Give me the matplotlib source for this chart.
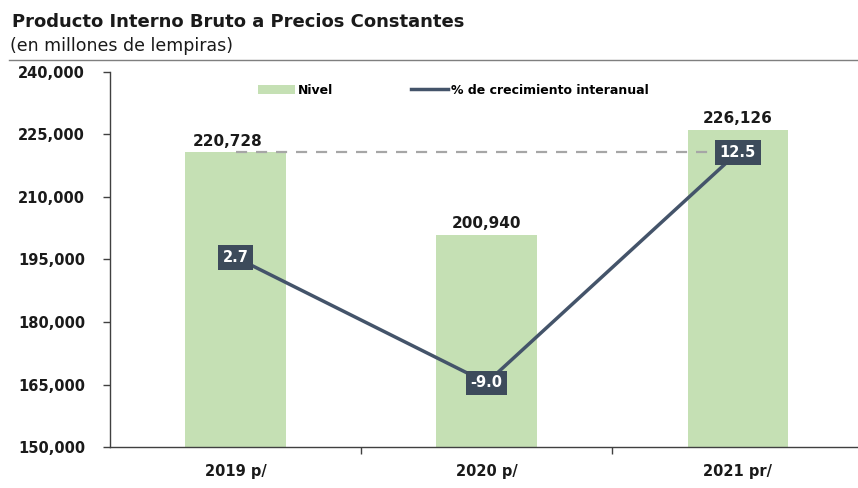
import matplotlib.pyplot as plt
from matplotlib.lines import Line2D
from matplotlib.patches import Patch
from matplotlib.ticker import FuncFormatter

years = ["2019 p/", "2020 p/", "2021 pr/"]
nivel = [220728, 200940, 226126]
crecimiento = [2.7, -9.0, 12.5]

BAR = "#c5e0b4"
LINE = "#44546a"
BOX = "#3d4b5b"
TXT = "#1a1a1a"

plt.rcParams["font.family"] = ["DejaVu Sans"]

fig = plt.figure(figsize=(8.58, 4.88), dpi=100)
ax = fig.add_axes([0.1282, 0.084, 0.878, 0.7685])
x = list(range(len(years)))

ax.bar(x, nivel, width=0.4, color=BAR, zorder=2)
ax.set_ylim(150000, 240000)
ax.set_xlim(-0.5, 2.5)
ax.set_yticks(range(150000, 240001, 15000))
ax.yaxis.set_major_formatter(FuncFormatter(lambda v, p: f"{int(v):,}"))
ax.set_xticks(x)
ax.set_xticklabels(years)
ax.set_xticks([0.5, 1.5, 2.5], minor=True)
ax.tick_params(axis="x", which="major", length=0, pad=12)
ax.tick_params(axis="x", which="minor", length=5, width=1, color="#404040")
ax.tick_params(axis="y", length=5, width=1, color="#404040", pad=13)
for lab in ax.get_xticklabels() + ax.get_yticklabels():
    lab.set_fontweight("bold")
    lab.set_fontsize(10.5)
    lab.set_color(TXT)
for s in ["top", "right"]:
    ax.spines[s].set_visible(False)
for s in ["left", "bottom"]:
    ax.spines[s].set_color("#404040")
    ax.spines[s].set_linewidth(1)

# dashed reference at 2019 level
ax.plot([0, 2], [nivel[0], nivel[0]], ls=(0, (5, 4)), color="#a6a6a6", lw=1.6, zorder=3)

for xi, v in zip(x, nivel):
    ax.text(xi - 0.03 if xi == 0 else xi, v + 900, f"{v:,}", ha="center", va="bottom",
            fontsize=11, fontweight="bold", color=TXT)

ax2 = ax.twinx()
ax2.set_ylim(-15, 20)
ax2.axis("off")
ax2.plot(x, crecimiento, color=LINE, lw=2.5, zorder=4)
for xi, v in zip(x, crecimiento):
    ax2.text(xi, v, f"{v:.1f}", ha="center", va="center", fontsize=10.5,
             fontweight="bold", color="white", zorder=5,
             bbox=dict(boxstyle="square,pad=0.32", fc=BOX, ec="none"))

handles = [Patch(facecolor=BAR, edgecolor="none"),
           Line2D([0], [0], color=LINE, lw=2.5)]
fig.legend(handles, ["Nivel", "% de crecimiento interanual"], loc="center",
           bbox_to_anchor=(0.528, 0.815), ncol=2, frameon=False, columnspacing=6.2,
           handlelength=3.0, handletextpad=0.2,
           prop={"weight": "bold", "size": 9})

fig.text(0.014, 0.955, "Producto Interno Bruto a Precios Constantes", fontsize=13,
         fontweight="bold", color=TXT, va="center")
fig.text(0.012, 0.905, "(en millones de lempiras)", fontsize=12.5, color=TXT, va="center")
fig.add_artist(Line2D([0.01, 1.0], [0.877, 0.877], color="#7f7f7f", lw=1))

fig.savefig("out.png", dpi=100)
